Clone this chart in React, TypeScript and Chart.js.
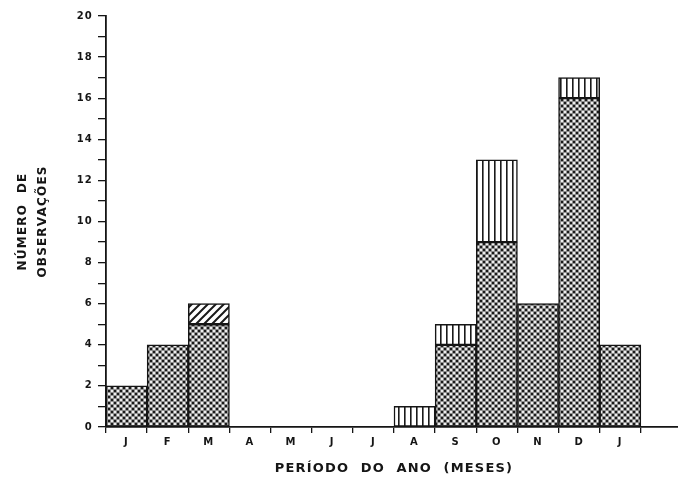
import React, { useEffect, useRef } from "react";
import { Chart, registerables } from "chart.js";

Chart.register(...registerables);

const months = ["J", "F", "M", "A", "M", "J", "J", "A", "S", "O", "N", "D", "J", ""];
const dottedValues = [2, 4, 5, null, null, null, null, null, 4, 9, 6, 16, 4, null];
const verticalValues = [null, null, null, null, null, null, null, 1, 1, 4, null, 1, null, null];
const diagonalValues = [null, null, 1, null, null, null, null, null, null, null, null, null, null, null];
const yTitle = ["NÚMERO  DE", "OBSERVAÇÕES"];
const xTitle = "PERÍODO  DO  ANO  (MESES)";

function makeTile(w: number, h: number, draw: (c: CanvasRenderingContext2D) => void) {
  const cv = document.createElement("canvas");
  cv.width = w;
  cv.height = h;
  const c = cv.getContext("2d")!;
  draw(c);
  return cv;
}

export default function App() {
  const ref = useRef<HTMLCanvasElement | null>(null);

  useEffect(() => {
    const canvas = ref.current!;
    const ctx = canvas.getContext("2d")!;

    const dotted = ctx.createPattern(
      makeTile(6, 6, (c) => {
        c.fillStyle = "#8f8f8f";
        c.fillRect(0, 0, 6, 6);
        c.fillStyle = "#1a1a1a";
        c.fillRect(0, 0, 2, 2);
        c.fillRect(3, 3, 2, 2);
        c.fillStyle = "#eeeeee";
        c.fillRect(3, 0, 2, 2);
        c.fillRect(0, 3, 2, 2);
      }),
      "repeat"
    )!;
    const vertical = ctx.createPattern(
      makeTile(6, 6, (c) => {
        c.fillStyle = "#ffffff";
        c.fillRect(0, 0, 6, 6);
        c.fillStyle = "#1a1a1a";
        c.fillRect(2, 0, 1.6, 6);
      }),
      "repeat"
    )!;
    const diagonal = ctx.createPattern(
      makeTile(8, 8, (c) => {
        c.fillStyle = "#ffffff";
        c.fillRect(0, 0, 8, 8);
        c.strokeStyle = "#1a1a1a";
        c.lineWidth = 2;
        c.beginPath();
        c.moveTo(-2, 10);
        c.lineTo(10, -2);
        c.moveTo(-2, 2);
        c.lineTo(2, -2);
        c.moveTo(6, 10);
        c.lineTo(10, 6);
        c.stroke();
      }),
      "repeat"
    )!;

    const spacingPlugin = {
      id: "spacing",
      beforeDraw(chart: any) {
        (chart.ctx as any).letterSpacing = "1.2px";
      },
    };

    const tickFont = { family: "'DejaVu Sans', sans-serif", size: 10, weight: "bold" as const };
    const common = {
      borderColor: "#151515",
      borderWidth: 1.5,
      borderSkipped: false as const,
      categoryPercentage: 1,
      barPercentage: 1,
    };

    const chart = new Chart(canvas, {
      type: "bar",
      data: {
        labels: months,
        datasets: [
          { label: "a", data: dottedValues, backgroundColor: dotted, ...common },
          { label: "b", data: verticalValues, backgroundColor: vertical, ...common },
          { label: "c", data: diagonalValues, backgroundColor: diagonal, ...common },
        ],
      },
      options: {
        animation: false,
        responsive: true,
        maintainAspectRatio: false,
        layout: { padding: { top: 16, left: 0, right: 0, bottom: 0 } },
        plugins: { legend: { display: false }, tooltip: { enabled: false } },
        scales: {
          x: {
            stacked: true,
            offset: true,
            grid: {
              offset: true,
              drawOnChartArea: false,
              drawTicks: true,
              tickLength: 6,
              color: "#151515",
              lineWidth: 1.3,
            },
            border: { display: true, color: "#151515", width: 1.8 },
            ticks: { font: tickFont, color: "#151515", padding: 3, maxRotation: 0, autoSkip: false },
            title: {
              display: true,
              text: xTitle,
              color: "#151515",
              font: { family: "'DejaVu Sans', sans-serif", size: 13, weight: "bold", lineHeight: 1.2 },
              padding: { top: 0, bottom: 2 },
            },
            afterFit: (s: any) => {
              s.height = 51;
            },
          },
          y: {
            stacked: true,
            min: 0,
            max: 20,
            ticks: {
              stepSize: 1,
              font: tickFont,
              color: "#151515",
              padding: 5,
              autoSkip: false,
              callback: (v: any) => (Number(v) % 2 === 0 ? String(v) : ""),
            },
            grid: {
              drawOnChartArea: false,
              drawTicks: true,
              tickLength: 8,
              color: "#151515",
              lineWidth: 1.3,
            },
            border: { display: true, color: "#151515", width: 1.8 },
            title: {
              display: true,
              text: yTitle,
              color: "#151515",
              font: { family: "'DejaVu Sans', sans-serif", size: 12, weight: "bold", lineHeight: 20 / 12 },
              padding: { top: 13, bottom: 0 },
            },
            afterFit: (s: any) => {
              s.width = 106;
            },
          },
        },
      },
      plugins: [spacingPlugin],
    });

    return () => chart.destroy();
  }, []);

  return (
    <div style={{ position: "absolute", left: 0, top: 0, width: 678, height: 478, overflow: "hidden", background: "#fff" }}>
      <div style={{ position: "relative", width: 682, height: 478 }}>
        <canvas ref={ref} />
      </div>
    </div>
  );
}
